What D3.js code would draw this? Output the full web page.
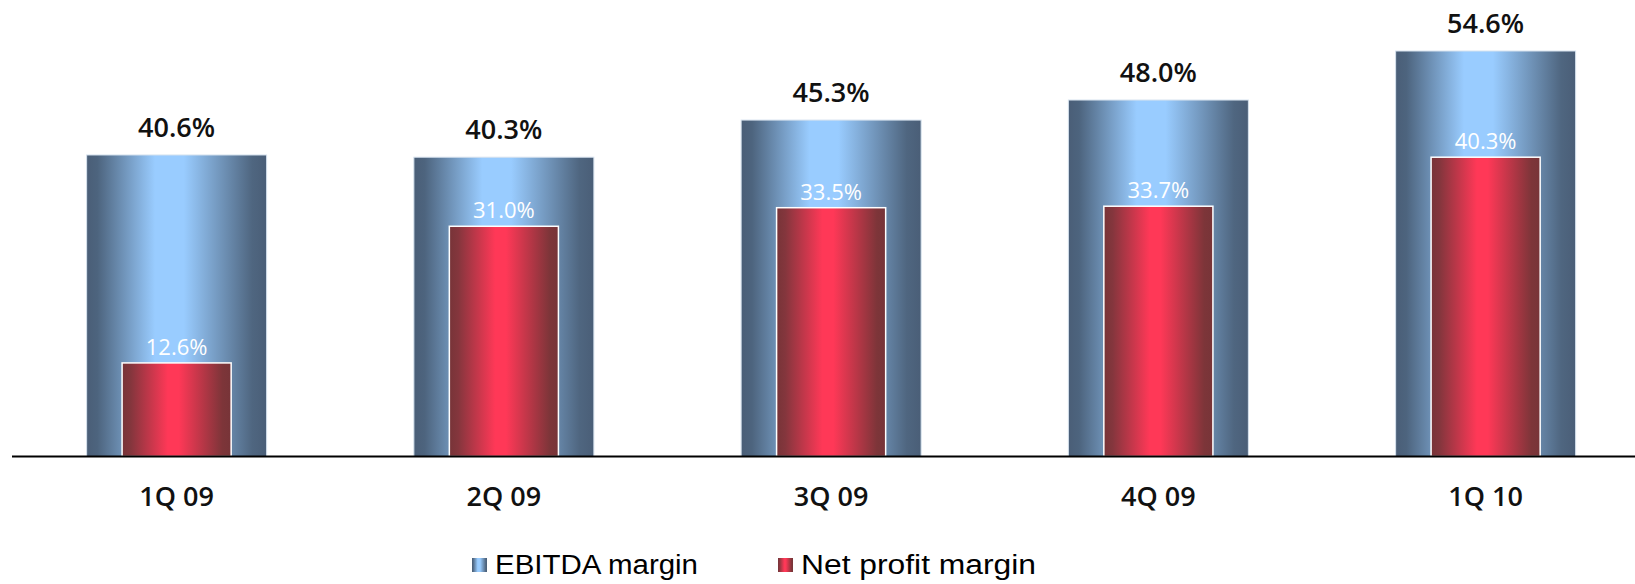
<!DOCTYPE html>
<html>
<head>
<meta charset="utf-8">
<script src="https://cdn.jsdelivr.net/npm/d3@7"></script>
<style>
  body { margin: 0; background: #fff; }
  svg { display: block; }
</style>
</head>
<body>
<div id="vis"></div>
<script>
// chart data
const QUARTERS = ["1Q 09", "2Q 09", "3Q 09", "4Q 09", "1Q 10"];
const EBITDA_MARGIN = [40.6, 40.3, 45.3, 48.0, 54.6];
const NET_MARGIN = [12.6, 31.0, 33.5, 33.7, 40.3];
const SERIES_NAMES = ["EBITDA margin", "Net profit margin"];

const FRAME_WIDTH = 1635;
const FRAME_HEIGHT = 584;
const BASE_Y = 456.5;

const FRAME = d3.select("#vis")
  .append("svg")
    .attr("width", FRAME_WIDTH)
    .attr("height", FRAME_HEIGHT);

// gradients for the bars (dark edges, light middle)
const defs = FRAME.append("defs");
function addGradient(id, stops) {
  const g = defs.append("linearGradient")
    .attr("id", id)
    .attr("x1", "0%").attr("x2", "100%")
    .attr("y1", "0%").attr("y2", "0%");
  stops.forEach(s => {
    g.append("stop").attr("offset", s[0]).attr("stop-color", s[1]);
  });
}
addGradient("gradBlue", [["0%", "#4a5e77"], ["6%", "#4d647e"], ["38%", "#99ccff"],
                         ["54%", "#99ccff"], ["92%", "#4f6680"], ["100%", "#4a5e77"]]);
addGradient("gradRed", [["0%", "#773438"], ["8%", "#84363d"], ["42%", "#ff3857"],
                        ["52%", "#ff3857"], ["92%", "#7d3539"], ["100%", "#773438"]]);

const X_SCALE = d3.scaleBand()
  .domain(QUARTERS)
  .range([13, 13 + 5 * 327.25])
  .paddingInner(0.45)
  .paddingOuter(0.225);

const Y_SCALE = d3.scaleLinear()
  .domain([0, 60])
  .range([BASE_Y, BASE_Y - 445.6]);

const ebitda = QUARTERS.map((q, i) => ({q: q, v: EBITDA_MARGIN[i]}));
const net = QUARTERS.map((q, i) => ({q: q, v: NET_MARGIN[i]}));

const BW = X_SCALE.bandwidth();
const RW = BW * 0.606;

// EBITDA bars (back)
FRAME.selectAll(".ebitda")
  .data(ebitda)
  .enter()
  .append("rect")
    .attr("class", "ebitda")
    .attr("x", d => X_SCALE(d.q))
    .attr("y", d => Y_SCALE(d.v))
    .attr("width", BW)
    .attr("height", d => BASE_Y - Y_SCALE(d.v))
    .attr("fill", "url(#gradBlue)")
    .attr("stroke", "#d6e2ee")
    .attr("stroke-width", 1);

// net profit bars (front)
FRAME.selectAll(".net")
  .data(net)
  .enter()
  .append("rect")
    .attr("class", "net")
    .attr("x", d => X_SCALE(d.q) + (BW - RW) / 2)
    .attr("y", d => Y_SCALE(d.v))
    .attr("width", RW)
    .attr("height", d => BASE_Y - Y_SCALE(d.v))
    .attr("fill", "url(#gradRed)")
    .attr("stroke", "#ffffff")
    .attr("stroke-width", 1.5);

// value labels
FRAME.selectAll(".ebitda-label")
  .data(ebitda)
  .enter()
  .append("text")
    .attr("x", d => X_SCALE(d.q) + BW / 2)
    .attr("y", d => Y_SCALE(d.v) - 18)
    .attr("text-anchor", "middle")
    .attr("font-family", "Open Sans")
    .attr("font-weight", 600)
    .attr("font-size", "27px")
    .attr("fill", "#111")
    .text(d => d.v.toFixed(1) + "%");

FRAME.selectAll(".net-label")
  .data(net)
  .enter()
  .append("text")
    .attr("x", d => X_SCALE(d.q) + BW / 2)
    .attr("y", d => Y_SCALE(d.v) - 8)
    .attr("text-anchor", "middle")
    .attr("font-family", "Open Sans")
    .attr("font-size", "22px")
    .attr("fill", "#ffffff")
    .text(d => d.v.toFixed(1) + "%");

// x axis
const xAxis = FRAME.append("g")
  .attr("transform", "translate(0," + BASE_Y + ")")
  .call(d3.axisBottom(X_SCALE).tickSize(0).tickPadding(49));
xAxis.select(".domain")
  .attr("d", "M12,0H" + FRAME_WIDTH)
  .attr("stroke", "#000")
  .attr("stroke-width", 2);
xAxis.selectAll("text")
  .attr("font-family", "Open Sans")
  .attr("font-weight", 600)
  .attr("font-size", "27px")
  .attr("fill", "#111")
  .attr("dy", 0);

// legend
const LEGEND = [
  {name: SERIES_NAMES[0], fill: "url(#gradBlue)", x: 472, w: 203},
  {name: SERIES_NAMES[1], fill: "url(#gradRed)", x: 778, w: 235}
];
const lg = FRAME.selectAll(".legend")
  .data(LEGEND)
  .enter()
  .append("g")
    .attr("transform", d => "translate(" + d.x + ",558)");
lg.append("rect")
  .attr("width", 15)
  .attr("height", 14)
  .attr("fill", d => d.fill);
lg.append("text")
  .attr("x", 23)
  .attr("y", 15.5)
  .attr("font-family", "Liberation Sans")
  .attr("font-size", "27px")
  .attr("fill", "#000")
  .attr("textLength", d => d.w)
  .attr("lengthAdjust", "spacingAndGlyphs")
  .text(d => d.name);
</script>
</body>
</html>
